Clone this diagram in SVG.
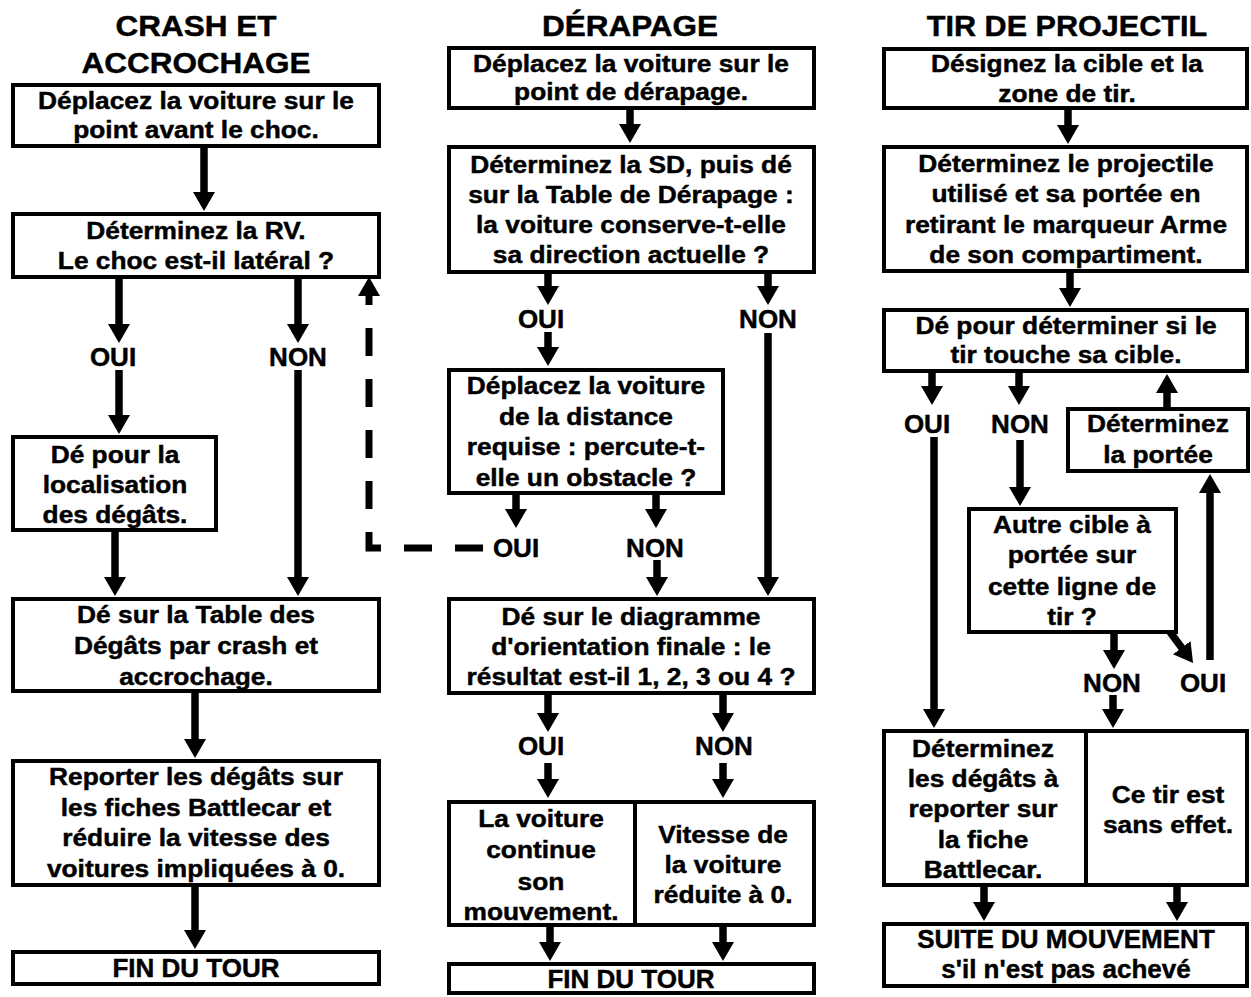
<svg xmlns="http://www.w3.org/2000/svg" width="1251" height="997" viewBox="0 0 1251 997">
<style>
text { font-family: "Liberation Sans", Arial, Helvetica, sans-serif; font-weight: bold; fill: #000; stroke: #000; stroke-width: 0.45; text-anchor: middle; }
.t { font-size: 30px; }
.b { font-size: 23.5px; }
.l { font-size: 25px; }
.f { font-size: 26px; }
rect { fill: #fff; stroke: #000; stroke-width: 4; }
.c { fill: none; stroke: #000; stroke-width: 7.5; marker-end: url(#ah); }
.d { fill: none; stroke: #000; stroke-width: 7; stroke-dasharray: 28 23; marker-end: url(#ah); }
</style>
<defs>
<marker id="ah" markerUnits="userSpaceOnUse" viewBox="0 0 19 22" markerWidth="19" markerHeight="22" refX="1" refY="11" orient="auto">
<path d="M0,0 L19,11 L0,22 z" fill="#000"/>
</marker>
</defs>
<rect x="0" y="0" width="1251" height="997" style="stroke:none;fill:#fff"/>

<!-- Titles -->
<g id="titles">
<text class="t" transform="translate(196 0) scale(1.05 1)"><tspan x="0" y="36">CRASH ET</tspan><tspan x="0" y="73">ACCROCHAGE</tspan></text>
<text class="t" transform="translate(630 0) scale(1.05 1)"><tspan x="0" y="36">DÉRAPAGE</tspan></text>
<text class="t" transform="translate(1067 0) scale(1.02 1)"><tspan x="0" y="36">TIR DE PROJECTIL</tspan></text>
</g>

<!-- Column 1 -->
<g id="c1-n1"><rect x="13" y="85" width="366" height="61"/>
<text class="b" transform="translate(196 0) scale(1.12 1)"><tspan x="0" y="109">Déplacez la voiture sur le</tspan><tspan x="0" y="138">point avant le choc.</tspan></text></g>
<g id="c1-n2"><rect x="13" y="214" width="366" height="63"/>
<text class="b" transform="translate(196 0) scale(1.12 1)"><tspan x="0" y="239">Déterminez la RV.</tspan><tspan x="0" y="269">Le choc est-il latéral ?</tspan></text></g>
<g id="c1-n3"><rect x="13" y="437" width="203" height="93"/>
<text class="b" transform="translate(115 0) scale(1.12 1)"><tspan x="0" y="463">Dé pour la</tspan><tspan x="0" y="493">localisation</tspan><tspan x="0" y="523">des dégâts.</tspan></text></g>
<g id="c1-n4"><rect x="13" y="599" width="366" height="92"/>
<text class="b" transform="translate(196 0) scale(1.12 1)"><tspan x="0" y="623">Dé sur la Table des</tspan><tspan x="0" y="654">Dégâts par crash et</tspan><tspan x="0" y="685">accrochage.</tspan></text></g>
<g id="c1-n5"><rect x="13" y="761" width="366" height="124"/>
<text class="b" transform="translate(196 0) scale(1.12 1)"><tspan x="0" y="785">Reporter les dégâts sur</tspan><tspan x="0" y="816">les fiches Battlecar et</tspan><tspan x="0" y="846">réduire la vitesse des</tspan><tspan x="0" y="877">voitures impliquées à 0.</tspan></text></g>
<g id="c1-n6"><rect x="13" y="952" width="366" height="32"/>
<text class="f" x="196" y="977">FIN DU TOUR</text></g>

<!-- Column 2 -->
<g id="c2-n1"><rect x="449" y="48" width="365" height="60"/>
<text class="b" transform="translate(631 0) scale(1.12 1)"><tspan x="0" y="72">Déplacez la voiture sur le</tspan><tspan x="0" y="100">point de dérapage.</tspan></text></g>
<g id="c2-n2"><rect x="449" y="147" width="365" height="125"/>
<text class="b" transform="translate(631 0) scale(1.12 1)"><tspan x="0" y="173">Déterminez la SD, puis dé</tspan><tspan x="0" y="203">sur la Table de Dérapage :</tspan><tspan x="0" y="233">la voiture conserve-t-elle</tspan><tspan x="0" y="263">sa direction actuelle ?</tspan></text></g>
<g id="c2-n3"><rect x="449" y="370" width="274" height="123"/>
<text class="b" transform="translate(586 0) scale(1.12 1)"><tspan x="0" y="394">Déplacez la voiture</tspan><tspan x="0" y="425">de la distance</tspan><tspan x="0" y="455">requise : percute-t-</tspan><tspan x="0" y="486">elle un obstacle ?</tspan></text></g>
<g id="c2-n4"><rect x="449" y="599" width="365" height="94"/>
<text class="b" transform="translate(631 0) scale(1.12 1)"><tspan x="0" y="625">Dé sur le diagramme</tspan><tspan x="0" y="655">d'orientation finale : le</tspan><tspan x="0" y="685">résultat est-il 1, 2, 3 ou 4 ?</tspan></text></g>
<g id="c2-n5"><rect x="449" y="802" width="186" height="123"/>
<text class="b" transform="translate(541 0) scale(1.12 1)"><tspan x="0" y="827">La voiture</tspan><tspan x="0" y="858">continue</tspan><tspan x="0" y="890">son</tspan><tspan x="0" y="920">mouvement.</tspan></text></g>
<g id="c2-n6"><rect x="635" y="802" width="179" height="123"/>
<text class="b" transform="translate(723 0) scale(1.12 1)"><tspan x="0" y="843">Vitesse de</tspan><tspan x="0" y="873">la voiture</tspan><tspan x="0" y="903">réduite à 0.</tspan></text></g>
<g id="c2-n7"><rect x="449" y="964" width="365" height="29"/>
<text class="f" x="631" y="988">FIN DU TOUR</text></g>

<!-- Column 3 -->
<g id="c3-n1"><rect x="884" y="49" width="363" height="59"/>
<text class="b" transform="translate(1067 0) scale(1.12 1)"><tspan x="0" y="72">Désignez la cible et la</tspan><tspan x="0" y="102">zone de tir.</tspan></text></g>
<g id="c3-n2"><rect x="884" y="147" width="363" height="124"/>
<text class="b" transform="translate(1066 0) scale(1.12 1)"><tspan x="0" y="172">Déterminez le projectile</tspan><tspan x="0" y="202">utilisé et sa portée en</tspan><tspan x="0" y="233">retirant le marqueur Arme</tspan><tspan x="0" y="263">de son compartiment.</tspan></text></g>
<g id="c3-n3"><rect x="884" y="310" width="363" height="61"/>
<text class="b" transform="translate(1066 0) scale(1.12 1)"><tspan x="0" y="334">Dé pour déterminer si le</tspan><tspan x="0" y="363">tir touche sa cible.</tspan></text></g>
<g id="c3-n4"><rect x="1068" y="409" width="180" height="62"/>
<text class="b" transform="translate(1158 0) scale(1.12 1)"><tspan x="0" y="432">Déterminez</tspan><tspan x="0" y="463">la portée</tspan></text></g>
<g id="c3-n5"><rect x="969" y="509" width="207" height="123"/>
<text class="b" transform="translate(1072 0) scale(1.12 1)"><tspan x="0" y="533">Autre cible à</tspan><tspan x="0" y="563">portée sur</tspan><tspan x="0" y="595">cette ligne de</tspan><tspan x="0" y="625">tir ?</tspan></text></g>
<g id="c3-n6"><rect x="884" y="731" width="202" height="154"/>
<text class="b" transform="translate(983 0) scale(1.12 1)"><tspan x="0" y="757">Déterminez</tspan><tspan x="0" y="787">les dégâts à</tspan><tspan x="0" y="817">reporter sur</tspan><tspan x="0" y="848">la fiche</tspan><tspan x="0" y="878">Battlecar.</tspan></text></g>
<g id="c3-n7"><rect x="1086" y="731" width="161" height="154"/>
<text class="b" transform="translate(1168 0) scale(1.12 1)"><tspan x="0" y="803">Ce tir est</tspan><tspan x="0" y="833">sans effet.</tspan></text></g>
<g id="c3-n8"><rect x="884" y="924" width="363" height="62"/>
<text class="f" x="1066" y="948">SUITE DU MOUVEMENT</text>
<text class="f" x="1066" y="978">s'il n'est pas achevé</text></g>

<!-- Connectors -->
<g id="connectors">
<path class="c" d="M204 148 V193"/>
<path class="c" d="M119 279 V325"/>
<path class="c" d="M119 370 V416"/>
<path class="c" d="M298 279 V325"/>
<path class="c" d="M298 370 V578"/>
<path class="c" d="M115 532 V578"/>
<path class="c" d="M195 693 V740"/>
<path class="c" d="M195 887 V931"/>
<path class="d" d="M483 548 H369 V295"/>

<path class="c" d="M630 110 V125"/>
<path class="c" d="M548 274 V287"/>
<path class="c" d="M548 332 V348"/>
<path class="c" d="M768 274 V287"/>
<path class="c" d="M768 333 V578"/>
<path class="c" d="M516 495 V510"/>
<path class="c" d="M656 495 V510"/>
<path class="c" d="M657 560 V578"/>
<path class="c" d="M548 695 V714"/>
<path class="c" d="M548 763 V780"/>
<path class="c" d="M723 695 V714"/>
<path class="c" d="M723 763 V780"/>
<path class="c" d="M550 927 V943"/>
<path class="c" d="M723 927 V943"/>

<path class="c" d="M1068 110 V126"/>
<path class="c" d="M1070 273 V289"/>
<path class="c" d="M932 373 V387"/>
<path class="c" d="M934 437 V710"/>
<path class="c" d="M1019 373 V387"/>
<path class="c" d="M1020 440 V488"/>
<path class="c" d="M1167 407 V392"/>
<path class="c" d="M1114 634 V651"/>
<path class="c" d="M1113 695 V710"/>
<path class="c" d="M1170 632 L1182.3 648.5"/>
<path class="c" d="M1210 660 V492"/>
<path class="c" d="M984 887 V903"/>
<path class="c" d="M1177 887 V903"/>
</g>

<!-- Branch labels -->
<g id="labels">
<text class="l" transform="translate(113 366) scale(1.04 1)">OUI</text>
<text class="l" transform="translate(298 366) scale(1.04 1)">NON</text>
<text class="l" transform="translate(541 328) scale(1.04 1)">OUI</text>
<text class="l" transform="translate(768 328) scale(1.04 1)">NON</text>
<text class="l" transform="translate(516 557) scale(1.04 1)">OUI</text>
<text class="l" transform="translate(655 557) scale(1.04 1)">NON</text>
<text class="l" transform="translate(541 755) scale(1.04 1)">OUI</text>
<text class="l" transform="translate(724 755) scale(1.04 1)">NON</text>
<text class="l" transform="translate(927 433) scale(1.04 1)">OUI</text>
<text class="l" transform="translate(1020 433) scale(1.04 1)">NON</text>
<text class="l" transform="translate(1112 692) scale(1.04 1)">NON</text>
<text class="l" transform="translate(1203 692) scale(1.04 1)">OUI</text>
</g>
</svg>
